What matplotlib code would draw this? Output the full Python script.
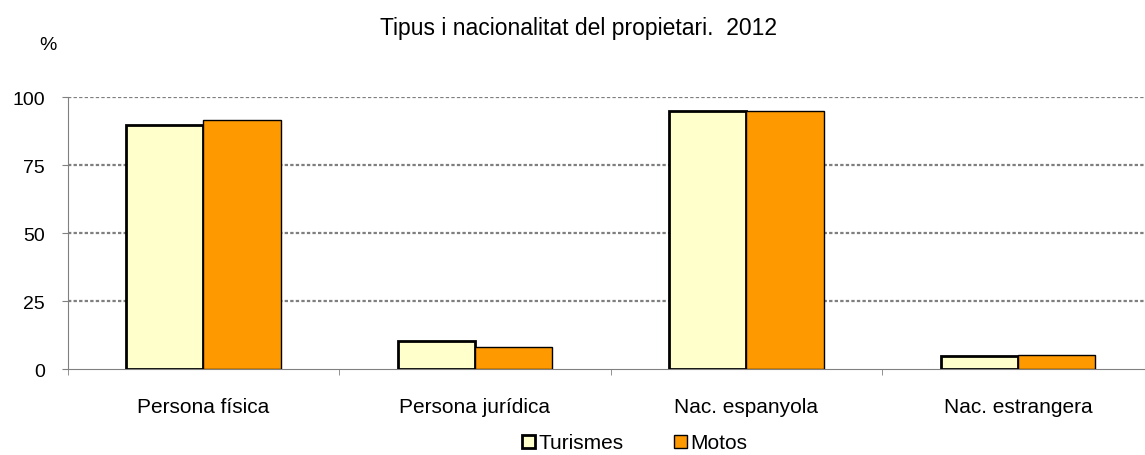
import matplotlib
matplotlib.use('Agg')
import matplotlib.pyplot as plt
import numpy as np
from matplotlib.patches import Patch

plt.rcParams['font.family'] = ['Liberation Sans', 'DejaVu Sans']

categories = ['Persona física', 'Persona jurídica', 'Nac. espanyola', 'Nac. estrangera']
turismes = [89.9, 10.3, 95.1, 5.0]
motos = [91.8, 8.2, 94.8, 5.2]
yticks = [0, 25, 50, 75, 100]

W, H = 1145, 456
fig = plt.figure(figsize=(W/100, H/100), dpi=100)
# plot area runs a bit past the right edge, as in the original
ax = fig.add_axes([67.7/W, 85.7/H, 1086/W, 272/H])

x = np.arange(len(categories))
w = 0.284
ax.bar(x - w/2, turismes, w, color='#FFFFCC', edgecolor='black', linewidth=2, zorder=3)
ax.bar(x + w/2, motos, w, color='#FF9900', edgecolor='black', linewidth=1, zorder=3)

ax.set_xlim(-0.5, len(categories) - 0.5)
ax.set_ylim(0, 100)
ax.set_yticks(yticks)
ax.set_yticklabels([str(v) for v in yticks], fontsize=14)
for v in yticks[1:]:
    ax.axhline(v, color='#7f7f7f', linestyle=(0, (1.5, 1)), linewidth=1.6, zorder=1)

ax.set_xticks(x)
ax.set_xticklabels(categories, fontsize=15)
ax.tick_params(axis='x', length=0, pad=20)
ax.set_xticks(np.arange(len(categories) + 1) - 0.5, minor=True)
ax.tick_params(axis='x', which='minor', length=4.5, color='#808080', direction='out')
ax.tick_params(axis='y', length=4.5, color='#808080', direction='out', pad=12)

for s in ['top', 'right']:
    ax.spines[s].set_visible(False)
ax.spines['left'].set_color('#808080')
ax.spines['bottom'].set_color('#808080')

fig.text(578/W, 1 - 28/H, 'Tipus i nacionalitat del propietari.  2012', ha='center', va='center', fontsize=16.5)
fig.text(48/W, 1 - 45/H, '%', ha='center', va='center', fontsize=14)

handles = [Patch(facecolor='#FFFFCC', edgecolor='black', linewidth=2),
           Patch(facecolor='#FF9900', edgecolor='black', linewidth=1)]
fig.legend(handles, ['Turismes', 'Motos'], loc='center', bbox_to_anchor=(635/W, 1 - 444/H),
           ncol=2, frameon=False, fontsize=15, handlelength=0.6, handleheight=0.6,
           handletextpad=0.2, columnspacing=2.4, borderpad=0)

fig.savefig('out.png', dpi=100)
